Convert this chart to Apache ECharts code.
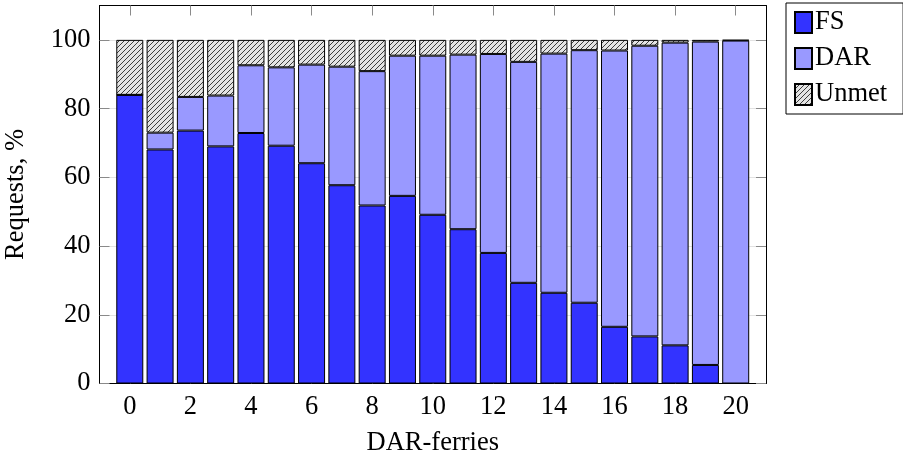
<!DOCTYPE html>
<html>
<head>
<meta charset="utf-8">
<script src="https://cdn.jsdelivr.net/npm/echarts@6/dist/echarts.min.js"></script>
<style>
  html, body { margin: 0; padding: 0; background: #fff; }
  #chart { width: 903px; height: 459px; }
</style>
</head>
<body>
<div id="chart"></div>
<script>
// number of DAR-ferries (x positions)
const ferries = [0, 1, 2, 3, 4, 5, 6, 7, 8, 9, 10, 11, 12, 13, 14, 15, 16, 17, 18, 19, 20]
// share of requests served by FS, %
const fsShare = [84, 68.1, 73.6, 69, 72.9, 69.2, 64.1, 57.7, 51.8, 54.6, 49.1, 44.9, 38, 29.3, 26.4, 23.5, 16.5, 13.7, 11.1, 5.4, 0]
// share served by DAR, %
const darShare = [0, 4.9, 9.8, 14.8, 19.7, 22.8, 28.7, 34.5, 39.1, 40.8, 46.3, 50.8, 57.9, 64.3, 69.6, 73.5, 80.4, 84.6, 88.1, 94.1, 99.8]
// unmet requests, %
const unmetShare = [16, 27, 16.6, 16.2, 7.4, 8, 7.2, 7.8, 9.1, 4.6, 4.6, 4.3, 4.1, 6.4, 4, 3, 3.1, 1.7, 0.8, 0.5, 0.2]
const xTicks = [0, 2, 4, 6, 8, 10, 12, 14, 16, 18, 20]
const yTicks = [0, 20, 40, 60, 80, 100]

const fontFamily = '"Liberation Serif", "DejaVu Serif", serif'
const fontSize = 26.5

// axis runs one step past the data on both sides
const xMin = ferries[0] - 1
const xMax = ferries[ferries.length - 1] + 1
const xCats = [xMin, ...ferries, xMax].map(String)
const pad = arr => [null, ...arr, null]
const isTick = (idx, val) => xTicks.indexOf(Number(val)) >= 0

// hatch pattern for unmet (north east lines)
function makeHatch() {
  const s = 5
  const c = document.createElement('canvas')
  c.width = s
  c.height = s
  const ctx = c.getContext('2d')
  ctx.fillStyle = '#e4e4e4'
  ctx.fillRect(0, 0, s, s)
  ctx.strokeStyle = '#111'
  ctx.lineWidth = 0.8
  ctx.beginPath()
  ctx.moveTo(0, s); ctx.lineTo(s, 0)
  ctx.moveTo(-1, 1); ctx.lineTo(1, -1)
  ctx.moveTo(s - 1, s + 1); ctx.lineTo(s + 1, s - 1)
  ctx.stroke()
  return c
}

const chart = echarts.init(document.getElementById('chart'), null, { renderer: 'canvas' })

function bar(name, values, color) {
  return {
    name,
    type: 'bar',
    stack: 'total',
    barWidth: 27,
    data: pad(values),
    itemStyle: { color, borderColor: '#000', borderWidth: 1 },
    emphasis: { disabled: true },
    animation: false
  }
}

const tickStyle = { show: true, inside: true, length: 10, lineStyle: { color: '#8a8a8a', width: 1 } }
const frameLine = { show: true, onZero: false, lineStyle: { color: '#000', width: 1 } }
// frame-only axes keep (empty) labels so the custom tick positions are used
const blankLabels = values => ({ show: true, customValues: values, formatter: () => '' })

chart.setOption({
  animation: false,
  textStyle: { fontFamily },
  grid: { left: 99.5, right: 137, top: 5.5, bottom: 75.5, containLabel: false, outerBoundsMode: 'none', show: false },
  legend: {
    orient: 'vertical',
    left: 786,
    top: 3,
    padding: [6, 16, 6, 8],
    itemGap: 9,
    itemWidth: 17,
    itemHeight: 21,
    icon: 'rect',
    borderColor: '#000',
    borderWidth: 1,
    textStyle: { fontFamily, fontSize, color: '#000', padding: [0, 0, 0, -2] },
    data: ['FS', 'DAR', 'Unmet'],
    selectedMode: false
  },
  xAxis: [{
    type: 'category',
    data: xCats,
    boundaryGap: false,
    name: 'DAR-ferries',
    nameLocation: 'middle',
    nameGap: 46,
    nameTextStyle: { fontFamily, fontSize, color: '#000' },
    axisLine: frameLine,
    axisTick: Object.assign({ interval: isTick }, tickStyle),
    axisLabel: { interval: isTick, fontFamily, fontSize, color: '#000', margin: 10 },
    splitLine: { show: false }
  }, {
    // top frame with tick marks only
    type: 'value',
    position: 'top',
    min: xMin,
    max: xMax,
    axisLine: frameLine,
    axisTick: Object.assign({ customValues: xTicks }, tickStyle),
    axisLabel: blankLabels(xTicks),
    splitLine: { show: false }
  }],
  yAxis: [{
    type: 'value',
    min: 0,
    max: 110,
    interval: 20,
    name: 'Requests, %',
    nameLocation: 'middle',
    nameGap: 70,
    nameTextStyle: { fontFamily, fontSize, color: '#000' },
    axisLine: frameLine,
    axisTick: Object.assign({ customValues: yTicks }, tickStyle),
    axisLabel: { customValues: yTicks, fontFamily, fontSize, color: '#000', margin: 9 },
    splitLine: { show: true, lineStyle: { color: '#e2e2e2', width: 1 } }
  }, {
    type: 'value',
    position: 'right',
    min: 0,
    max: 110,
    interval: 20,
    axisLine: frameLine,
    axisTick: Object.assign({ customValues: yTicks }, tickStyle),
    axisLabel: blankLabels(yTicks),
    splitLine: { show: false }
  }],
  series: [
    bar('FS', fsShare, '#3333ff'),
    bar('DAR', darShare, '#9999ff'),
    bar('Unmet', unmetShare, { image: makeHatch(), repeat: 'repeat' })
  ]
})
</script>
</body>
</html>
